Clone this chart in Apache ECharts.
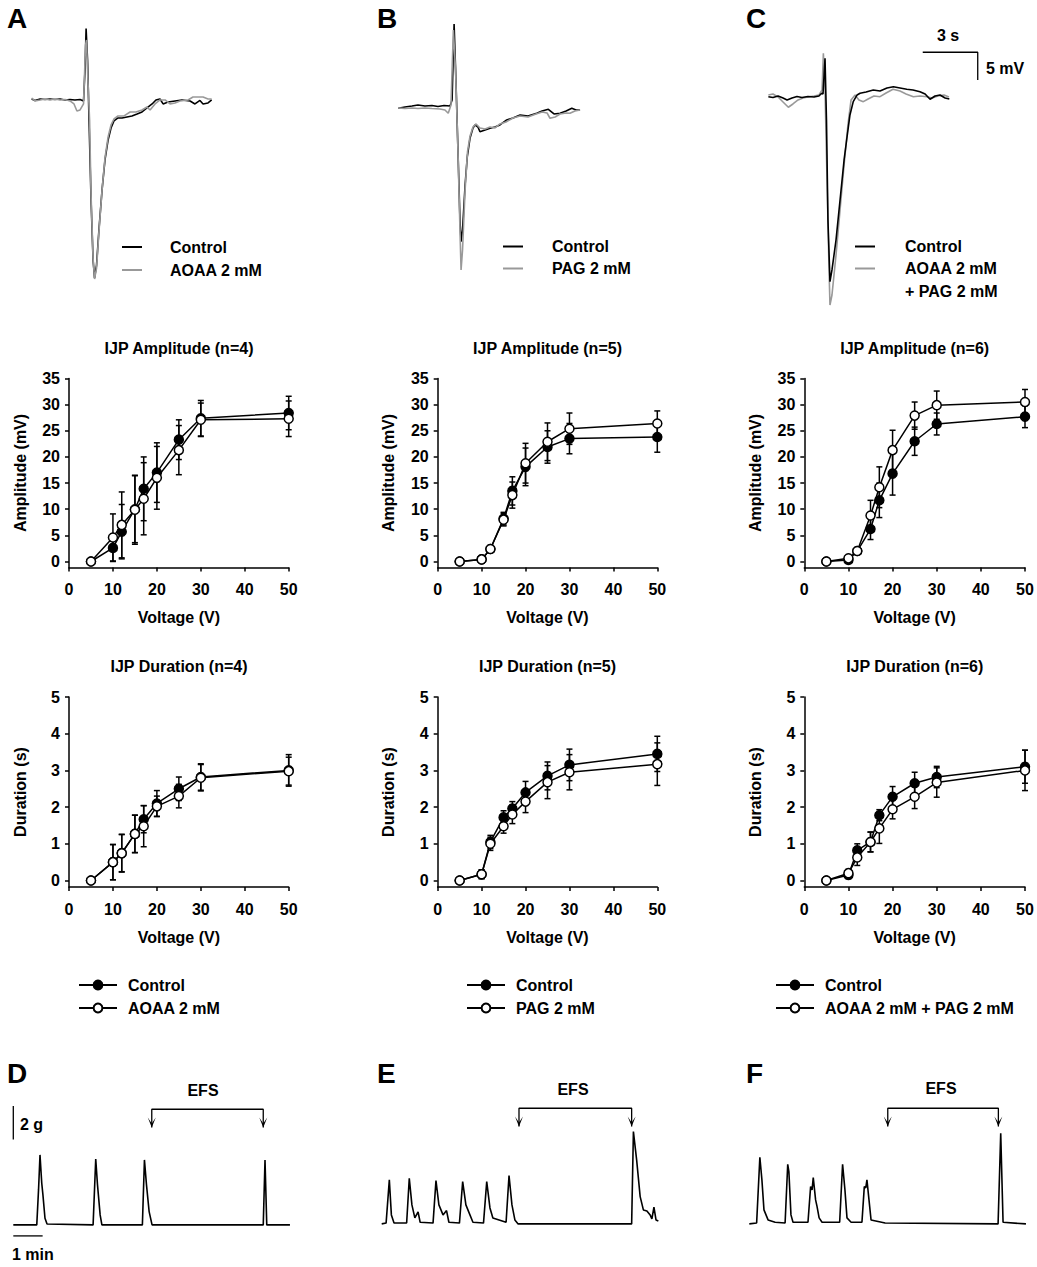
<!DOCTYPE html>
<html><head><meta charset="utf-8">
<script src="https://cdn.jsdelivr.net/npm/echarts@6/dist/echarts.min.js"></script>
<style>html,body{margin:0;padding:0;background:#fff}#c{width:1037px;height:1267px}</style>
</head><body><div id="c"></div>
<script>
const FONT = '"Liberation Sans", Arial, Helvetica, sans-serif';

// ---------- IJP summary data ----------
const VOLTAGES = [5, 10, 12, 15, 17, 20, 25, 30, 50];
const X_TICKS = [0, 10, 20, 30, 40, 50];
const AMP_TICKS = [0, 5, 10, 15, 20, 25, 30, 35];
const DUR_TICKS = [0, 1, 2, 3, 4, 5];

const AMP_A_CTRL = [0, 2.6, 5.7, 10.0, 13.9, 17.0, 23.3, 27.4, 28.4];
const AMP_A_CTRL_SEM = [0, 2.6, 5.2, 6.4, 6.1, 5.7, 3.8, 3.4, 3.2];
const AMP_A_DRUG = [0, 4.6, 7.0, 9.9, 12.0, 16.0, 21.3, 27.1, 27.3];
const AMP_A_DRUG_SEM = [0, 4.5, 6.3, 6.6, 6.9, 6.0, 4.7, 3.2, 3.4];

const AMP_B_CTRL = [0, 0.4, 2.4, 8.2, 13.5, 18.1, 21.9, 23.5, 23.8];
const AMP_B_CTRL_SEM = [0, 0.2, 0.4, 1.2, 2.7, 3.6, 3.1, 2.9, 2.9];
const AMP_B_DRUG = [0, 0.4, 2.4, 8.0, 12.7, 18.8, 22.9, 25.4, 26.4];
const AMP_B_DRUG_SEM = [0, 0.2, 0.4, 1.2, 2.5, 3.8, 3.6, 3.0, 2.4];

const AMP_C_CTRL = [0, 0.3, 2.0, 6.2, 11.7, 16.8, 23.0, 26.3, 27.7];
const AMP_C_CTRL_SEM = [0, 0.2, 0.4, 2.0, 3.3, 4.1, 2.7, 2.1, 2.1];
const AMP_C_DRUG = [0, 0.6, 2.0, 8.8, 14.2, 21.3, 27.9, 29.9, 30.5];
const AMP_C_DRUG_SEM = [0, 0.3, 0.4, 2.9, 3.9, 3.8, 2.6, 2.7, 2.4];

const DUR_A_CTRL = [0, 0.5, 0.75, 1.27, 1.67, 2.1, 2.5, 2.82, 3.0];
const DUR_A_CTRL_SEM = [0, 0.48, 0.51, 0.51, 0.37, 0.35, 0.32, 0.36, 0.43];
const DUR_A_DRUG = [0, 0.5, 0.74, 1.27, 1.48, 2.02, 2.3, 2.8, 2.98];
const DUR_A_DRUG_SEM = [0, 0.48, 0.51, 0.51, 0.56, 0.28, 0.32, 0.36, 0.38];

const DUR_B_CTRL = [0, 0.17, 1.05, 1.72, 1.96, 2.4, 2.85, 3.15, 3.45];
const DUR_B_CTRL_SEM = [0, 0.12, 0.18, 0.18, 0.19, 0.3, 0.38, 0.43, 0.48];
const DUR_B_DRUG = [0, 0.17, 1.0, 1.48, 1.8, 2.15, 2.68, 2.95, 3.17];
const DUR_B_DRUG_SEM = [0, 0.12, 0.18, 0.19, 0.25, 0.3, 0.45, 0.48, 0.58];

const DUR_C_CTRL = [0, 0.15, 0.82, 1.05, 1.78, 2.28, 2.65, 2.82, 3.1];
const DUR_C_CTRL_SEM = [0, 0.1, 0.18, 0.27, 0.15, 0.28, 0.3, 0.29, 0.45];
const DUR_C_DRUG = [0, 0.2, 0.63, 1.05, 1.42, 1.94, 2.28, 2.67, 3.0];
const DUR_C_DRUG_SEM = [0, 0.1, 0.22, 0.27, 0.41, 0.26, 0.32, 0.4, 0.55];

// ---------- IJP traces (time s, membrane potential mV rel. baseline) ----------
const TRACE_A_CTRL = [[0.09,0.18],[0.27,-0.09],[0.55,0.18],[0.82,0.09],[1.09,0.18],[1.36,0.09],[1.64,0.18],[1.91,0],[2.18,0.09],[2.45,0],[2.73,0.09],[2.92,-0.18],[3.00,5.42],[3.06,12.93],[3.14,7.23],[3.22,-3.62],[3.33,-18.08],[3.44,-28.93],[3.52,-32.19],[3.63,-29.84],[3.76,-23.51],[3.93,-16.27],[4.09,-10.85],[4.26,-7.23],[4.42,-5.06],[4.58,-3.80],[4.80,-3.25],[5.02,-3.25],[5.29,-3.07],[5.56,-2.89],[5.84,-2.53],[6.11,-2.17],[6.38,-1.45],[6.66,-0.72],[6.87,0],[7.09,0.18],[7.26,-0.72],[7.53,-0.36],[7.91,-0.18],[8.29,0],[8.73,-0.18],[9.00,-0.72],[9.27,-0.09],[9.44,-0.72],[9.71,-0.54],[9.91,0]];
const TRACE_A_DRUG = [[0.09,0.36],[0.27,-0.18],[0.55,0],[0.82,0.18],[1.09,0],[1.36,0.18],[1.64,0],[1.91,0.09],[2.18,-0.18],[2.40,-0.72],[2.56,-1.99],[2.73,-1.81],[2.92,-0.72],[3.03,9.95],[3.08,10.85],[3.16,3.62],[3.25,-3.62],[3.33,-17.18],[3.44,-28.57],[3.52,-32.37],[3.63,-30.38],[3.76,-23.87],[3.93,-16.27],[4.09,-10.49],[4.26,-6.69],[4.42,-4.52],[4.58,-3.44],[4.80,-2.89],[5.13,-2.89],[5.46,-2.17],[5.78,-2.17],[6.11,-1.81],[6.38,-1.27],[6.55,-1.81],[6.82,-0.72],[7.09,0],[7.37,0],[7.64,-0.72],[7.91,-0.54],[8.18,-0.18],[8.62,0],[8.89,0.54],[9.17,0.54],[9.44,0.54],[9.71,0.18],[9.91,0.18]];
const TRACE_B_CTRL = [[0.02,-0.24],[0.38,0],[0.76,0.18],[1.09,0.36],[1.47,0.18],[1.85,0.27],[2.18,0.09],[2.51,0.27],[2.84,0.18],[2.95,1.27],[3.06,15.0],[3.16,4.88],[3.27,-7.78],[3.38,-20.43],[3.44,-24.36],[3.52,-22.24],[3.66,-14.1],[3.78,-8.99],[3.93,-5.61],[4.09,-3.80],[4.20,-3.25],[4.36,-3.62],[4.47,-4.47],[4.75,-4.16],[5.02,-3.85],[5.29,-3.62],[5.56,-3.25],[5.93,-2.35],[6.27,-1.99],[6.66,-1.45],[7.09,-1.63],[7.57,-1.14],[7.86,-0.72],[8.20,-0.42],[8.51,-1.27],[8.84,-1.14],[9.17,-0.72],[9.48,-0.24],[9.71,-0.54],[9.93,-0.54]];
const TRACE_B_DRUG = [[0.02,-0.18],[0.38,-0.27],[0.76,-0.18],[1.09,-0.27],[1.47,-0.18],[1.85,-0.27],[2.29,-0.36],[2.56,-0.54],[2.74,-1.14],[2.89,0.36],[3.02,13.92],[3.14,6.69],[3.27,-7.78],[3.38,-22.24],[3.44,-29.48],[3.52,-25.86],[3.66,-15.01],[3.79,-8.14],[3.93,-5.24],[4.09,-3.62],[4.26,-3.07],[4.47,-3.80],[4.75,-3.98],[5.02,-3.62],[5.29,-3.80],[5.56,-3.07],[5.89,-2.71],[6.27,-1.99],[6.66,-1.63],[7.09,-1.81],[7.53,-1.27],[7.86,-0.90],[8.13,-1.08],[8.29,-2.04],[8.57,-1.81],[8.84,-1.27],[9.17,-1.08],[9.38,-1.14],[9.65,-0.72],[9.93,-0.54]];
const TRACE_C_CTRL = [[0.02,0.05],[0.27,-0.09],[0.55,0.18],[0.82,-0.18],[1.04,-0.54],[1.31,-0.18],[1.58,0.09],[1.85,-0.09],[2.18,0.09],[2.51,0],[2.78,0.18],[2.93,0.67],[3.00,0.54],[3.11,7.0],[3.19,-4.16],[3.27,-22.24],[3.38,-33.4],[3.49,-31.28],[3.71,-25.86],[3.93,-18.63],[4.15,-11.39],[4.29,-7.78],[4.47,-3.25],[4.65,-0.85],[4.86,0.36],[5.02,0.67],[5.35,0.90],[5.74,1.27],[6.11,1.08],[6.49,1.63],[6.84,1.86],[7.20,1.63],[7.57,1.39],[7.91,1.27],[8.29,0.96],[8.57,0.54],[8.84,-0.42],[9.11,0.18],[9.38,0.36],[9.66,-0.18],[9.89,-0.36]];
const TRACE_C_DRUG = [[0.02,0.36],[0.27,0.54],[0.55,0],[0.82,-0.90],[1.11,-1.86],[1.36,-1.27],[1.64,-0.54],[1.91,-0.18],[2.18,0],[2.51,0.18],[2.78,0.36],[2.95,1.27],[3.02,7.9],[3.11,1.27],[3.22,-15.01],[3.33,-31.28],[3.38,-37.61],[3.49,-35.8],[3.71,-28.57],[3.93,-20.43],[4.15,-12.30],[4.36,-5.06],[4.53,-0.54],[4.75,0.36],[4.96,-0.54],[5.20,-0.85],[5.46,-0.36],[5.78,0.18],[6.11,0.05],[6.44,0.72],[6.82,1.39],[7.20,1.08],[7.53,0.54],[7.93,0.05],[8.29,0.18],[8.66,0.05],[8.95,-0.18],[9.27,0.18],[9.60,0.36],[9.87,0]];
// scale bar: corner start (s, mV), 3 s and 5 mV
const SCALE_BAR_IJP = [[8.44, 8.08], [11.44, 8.08], [11.44, 3.08]];

// ---------- Contraction traces (time min, force g) ----------
const CONTR_D = [[0,0],[0.80,0],[0.86,2.1],[0.91,4.2],[0.97,2.5],[1.01,1.8],[1.08,0.4],[1.15,0.05],[2.72,0],[2.81,3.95],[2.87,2.4],[2.96,0.6],[3.02,0],[4.40,0],[4.47,3.9],[4.54,2.4],[4.63,0.8],[4.73,0],[8.52,0],[8.58,3.9],[8.64,0],[9.43,0]];
const CONTR_E = [[0,0],[0.15,0.05],[0.26,2.64],[0.33,0.54],[0.42,0.05],[0.85,0.05],[0.94,2.74],[1.03,1.14],[1.13,0.36],[1.24,0.72],[1.31,0.1],[1.75,0.05],[1.85,2.6],[1.95,1.14],[2.09,0.54],[2.21,0.8],[2.29,0.1],[2.65,0.05],[2.76,2.54],[2.87,1.14],[2.98,0.66],[3.11,0.1],[3.47,0.05],[3.58,2.54],[3.69,0.96],[3.79,0.36],[4.24,0.1],[4.34,2.9],[4.44,1.14],[4.54,0.24],[4.65,0],[8.52,0],[8.58,5.54],[8.69,3.84],[8.81,1.64],[8.92,0.84],[9.04,0.78],[9.15,0.54],[9.21,0.3],[9.28,1.0],[9.35,0.24],[9.43,0.18]];
const CONTR_F = [[0,0],[0.25,0.05],[0.36,4.0],[0.43,2.64],[0.50,0.84],[0.64,0.24],[0.88,0.1],[1.22,0.05],[1.31,3.58],[1.35,3.12],[1.42,0.54],[1.49,0.1],[2.0,0.1],[2.09,2.24],[2.14,2.04],[2.18,2.78],[2.26,1.44],[2.31,1.04],[2.38,0.36],[2.48,0.1],[3.08,0.1],[3.18,3.58],[3.26,2.04],[3.33,0.36],[3.47,0.1],[3.84,0.1],[3.92,2.24],[3.97,2.16],[4.01,2.64],[4.08,1.44],[4.15,0.24],[4.63,0.05],[8.48,0],[8.57,5.44],[8.65,0.1],[9.43,0]];
const EFS_D = [4.72, 8.52];
const EFS_E = [4.68, 8.52];
const EFS_F = [4.72, 8.49];
const EFS_BRACKET = [6.94, 5.85]; // bracket level, arrow tip (g)
const SCALE_2G = [[0, 5.13], [0, 7.13]];
const SCALE_1MIN = [[0, -0.66], [1, -0.66]];

// ---------- layout ----------
const grids = [
  {left: 69, top: 378.5, width: 219.7, height: 189},
  {left: 437.7, top: 378.5, width: 219.6, height: 189},
  {left: 804.3, top: 378.5, width: 220.7, height: 189},
  {left: 69, top: 697, width: 219.7, height: 190},
  {left: 437.7, top: 697, width: 219.6, height: 190},
  {left: 804.3, top: 697, width: 220.7, height: 190},
  // IJP traces
  {left: 30, top: 17, width: 220, height: 304.2},
  {left: 398, top: 24, width: 220, height: 304.2},
  {left: 768, top: 14, width: 220, height: 304.2},
  // contraction traces
  {left: 13.3, top: 1091.6, width: 278.7, height: 158.3},
  {left: 381.7, top: 1090.6, width: 278.7, height: 158.3},
  {left: 749.3, top: 1090.6, width: 278.7, height: 158.3}
];

const lblStyle = {fontSize: 16, fontWeight: 'bold', color: '#000', fontFamily: FONT};
const axisLineStyle = {color: '#000', width: 1.5};

const xAxes = [], yAxes = [];
for (let i = 0; i < 6; i++) {
  const isAmp = i < 3;
  xAxes.push({
    gridIndex: i, type: 'value', min: 0, max: 50, interval: 10,
    axisLine: {show: true, onZero: false, lineStyle: axisLineStyle},
    axisTick: {show: true, length: 4, lineStyle: axisLineStyle},
    axisLabel: Object.assign({margin: 14}, lblStyle),
    splitLine: {show: false},
    name: 'Voltage (V)', nameLocation: 'middle', nameGap: 42,
    nameTextStyle: lblStyle
  });
  yAxes.push({
    gridIndex: i, type: 'value',
    min: isAmp ? -1.15 : -0.177, max: isAmp ? 35 : 5,
    axisLine: {show: true, onZero: false, lineStyle: axisLineStyle},
    axisTick: {show: true, length: 4, lineStyle: axisLineStyle, customValues: isAmp ? AMP_TICKS : DUR_TICKS},
    axisLabel: Object.assign({margin: 9, customValues: isAmp ? AMP_TICKS : DUR_TICKS}, lblStyle),
    splitLine: {show: false},
    name: isAmp ? 'Amplitude (mV)' : 'Duration (s)', nameLocation: 'middle', nameGap: 41,
    nameRotate: 90, nameTextStyle: lblStyle
  });
}
for (let i = 6; i < 9; i++) {
  xAxes.push({gridIndex: i, type: 'value', min: 0, max: 12, show: false});
  yAxes.push({gridIndex: i, type: 'value', min: -40, max: 15, show: false});
}
for (let i = 9; i < 12; i++) {
  xAxes.push({gridIndex: i, type: 'value', min: 0, max: 9.5, show: false});
  yAxes.push({gridIndex: i, type: 'value', min: -1.5, max: 8, show: false});
}

const series = [];
function errBars(gi, means, sems) {
  series.push({
    type: 'custom', xAxisIndex: gi, yAxisIndex: gi, z: 2, silent: true,
    data: VOLTAGES.map((v, k) => [v, means[k] - sems[k], means[k] + sems[k]]),
    encode: {x: 0, y: [1, 2]},
    renderItem: function (params, api) {
      const x = api.value(0);
      const a = api.coord([x, api.value(1)]);
      const b = api.coord([x, api.value(2)]);
      const w = 3, st = {stroke: '#000', lineWidth: 1.5};
      return {type: 'group', children: [
        {type: 'line', shape: {x1: a[0], y1: a[1], x2: b[0], y2: b[1]}, style: st},
        {type: 'line', shape: {x1: a[0] - w, y1: a[1], x2: a[0] + w, y2: a[1]}, style: st},
        {type: 'line', shape: {x1: b[0] - w, y1: b[1], x2: b[0] + w, y2: b[1]}, style: st}
      ]};
    }
  });
}
function meanLine(gi, name, vals, filled) {
  series.push({
    type: 'line', name: name, xAxisIndex: gi, yAxisIndex: gi, z: filled ? 3 : 4,
    data: VOLTAGES.map((v, k) => [v, vals[k]]),
    symbol: 'circle', symbolSize: 9, showSymbol: true,
    lineStyle: {color: '#000', width: 1.5},
    itemStyle: {color: filled ? '#000' : '#fff', borderColor: '#000', borderWidth: 1.5},
    emphasis: {disabled: true}, animation: false
  });
}
const panels = [
  [0, AMP_A_CTRL, AMP_A_CTRL_SEM, AMP_A_DRUG, AMP_A_DRUG_SEM, 'AOAA 2 mM'],
  [1, AMP_B_CTRL, AMP_B_CTRL_SEM, AMP_B_DRUG, AMP_B_DRUG_SEM, 'PAG 2 mM'],
  [2, AMP_C_CTRL, AMP_C_CTRL_SEM, AMP_C_DRUG, AMP_C_DRUG_SEM, 'AOAA 2 mM + PAG 2 mM'],
  [3, DUR_A_CTRL, DUR_A_CTRL_SEM, DUR_A_DRUG, DUR_A_DRUG_SEM, 'AOAA 2 mM'],
  [4, DUR_B_CTRL, DUR_B_CTRL_SEM, DUR_B_DRUG, DUR_B_DRUG_SEM, 'PAG 2 mM'],
  [5, DUR_C_CTRL, DUR_C_CTRL_SEM, DUR_C_DRUG, DUR_C_DRUG_SEM, 'AOAA 2 mM + PAG 2 mM']
];
panels.forEach(p => {
  errBars(p[0], p[1], p[2]);
  errBars(p[0], p[3], p[4]);
  meanLine(p[0], 'Control', p[1], true);
  meanLine(p[0], p[5], p[3], false);
});

function trace(gi, name, data, color, width, z) {
  series.push({
    type: 'line', name: name, xAxisIndex: gi, yAxisIndex: gi, data: data,
    showSymbol: false, symbol: 'none', clip: false, z: z || 2,
    lineStyle: {color: color, width: width}, emphasis: {disabled: true}, silent: true
  });
}
const GRAY = '#999999';
trace(6, 'IJP trace A control', TRACE_A_CTRL, '#000', 1.6, 2);
trace(6, 'IJP trace A AOAA', TRACE_A_DRUG, GRAY, 1.6, 3);
trace(7, 'IJP trace B control', TRACE_B_CTRL, '#000', 1.6, 2);
trace(7, 'IJP trace B PAG', TRACE_B_DRUG, GRAY, 1.6, 3);
trace(8, 'IJP trace C AOAA+PAG', TRACE_C_DRUG, GRAY, 1.6, 2);
trace(8, 'IJP trace C control', TRACE_C_CTRL, '#000', 1.6, 3);
trace(8, 'IJP scale bar', SCALE_BAR_IJP, '#000', 1.3, 3);

trace(9, 'Contraction D', CONTR_D, '#000', 1.6);
trace(10, 'Contraction E', CONTR_E, '#000', 1.6);
trace(11, 'Contraction F', CONTR_F, '#000', 1.6);
trace(9, 'Scale 2 g', SCALE_2G, '#000', 1.3);
trace(9, 'Scale 1 min', SCALE_1MIN, '#000', 1.3);

const ARROW = 'path://M0,0 L5,10 L10,0 L5,6 Z';
function efs(gi, t) {
  const arrow = {symbol: ARROW, symbolSize: [8, 10], symbolOffset: [0, '-50%']};
  series.push({
    type: 'line', name: 'EFS ' + gi, xAxisIndex: gi, yAxisIndex: gi, clip: false,
    showSymbol: true, symbol: 'none', silent: true,
    lineStyle: {color: '#000', width: 1.3}, itemStyle: {color: '#000'},
    data: [
      Object.assign({value: [t[0], EFS_BRACKET[1]]}, arrow),
      {value: [t[0], EFS_BRACKET[0]]},
      {value: [t[1], EFS_BRACKET[0]]},
      Object.assign({value: [t[1], EFS_BRACKET[1]]}, arrow)
    ]
  });
}
efs(9, EFS_D); efs(10, EFS_E); efs(11, EFS_F);

// ---------- legends ----------
function legend(left, names) {
  return {
    orient: 'vertical', left: left, top: 977, padding: 0,
    itemWidth: 38, itemHeight: 11, itemGap: 7,
    selectedMode: false, data: names,
    textStyle: Object.assign({lineHeight: 16, padding: [0, 0, 0, 6]}, lblStyle)
  };
}

// ---------- graphic text ----------
function txt(x, y, s, opts) {
  opts = opts || {};
  const size = opts.size || 16;
  const align = opts.align || 'left';
  return {type: 'text', x: x, y: y, silent: true, style: {
    text: s, fontSize: size, fontWeight: 'bold', fontFamily: FONT, fill: '#000',
    textAlign: align, align: align, textVerticalAlign: 'middle', verticalAlign: 'middle'
  }};
}
function seg(x1, y1, x2, y2, color) {
  return {type: 'line', silent: true, shape: {x1: x1, y1: y1, x2: x2, y2: y2}, style: {stroke: color, lineWidth: 2}};
}
const graphics = [
  txt(7, 18, 'A', {size: 28}), txt(377, 18, 'B', {size: 28}), txt(746, 18, 'C', {size: 28}),
  txt(7, 1073, 'D', {size: 28}), txt(377, 1073, 'E', {size: 28}), txt(746, 1073, 'F', {size: 28}),
  txt(179, 348, 'IJP Amplitude (n=4)', {align: 'center'}),
  txt(547.5, 348, 'IJP Amplitude (n=5)', {align: 'center'}),
  txt(914.7, 348, 'IJP Amplitude (n=6)', {align: 'center'}),
  txt(179, 666.5, 'IJP Duration (n=4)', {align: 'center'}),
  txt(547.5, 666.5, 'IJP Duration (n=5)', {align: 'center'}),
  txt(914.7, 666.5, 'IJP Duration (n=6)', {align: 'center'}),
  seg(122, 247, 142, 247, '#000'), txt(170, 247, 'Control'),
  seg(122, 270, 142, 270, GRAY), txt(170, 270, 'AOAA 2 mM'),
  seg(503, 246.5, 523, 246.5, '#000'), txt(552, 246.5, 'Control'),
  seg(503, 268.5, 523, 268.5, GRAY), txt(552, 268.5, 'PAG 2 mM'),
  seg(855, 246.5, 875, 246.5, '#000'), txt(905, 246.5, 'Control'),
  seg(855, 268.5, 875, 268.5, GRAY), txt(905, 268.5, 'AOAA 2 mM'),
  txt(905, 291.5, '+ PAG 2 mM'),
  txt(948, 35, '3 s', {align: 'center'}), txt(986, 68, '5 mV'),
  txt(203, 1090, 'EFS', {align: 'center'}),
  txt(573, 1089, 'EFS', {align: 'center'}),
  txt(941, 1088, 'EFS', {align: 'center'}),
  txt(20, 1124, '2 g'), txt(12, 1254, '1 min')
];

const option = {
  animation: false,
  backgroundColor: '#fff',
  textStyle: {fontFamily: FONT},
  grid: grids,
  xAxis: xAxes,
  yAxis: yAxes,
  legend: [
    legend(78, ['Control', 'AOAA 2 mM']),
    legend(466, ['Control', 'PAG 2 mM']),
    legend(775, ['Control', 'AOAA 2 mM + PAG 2 mM'])
  ],
  series: series,
  graphic: graphics
};
const chart = echarts.init(document.getElementById('c'), null, {renderer: 'svg'});
chart.setOption(option);
</script></body></html>
